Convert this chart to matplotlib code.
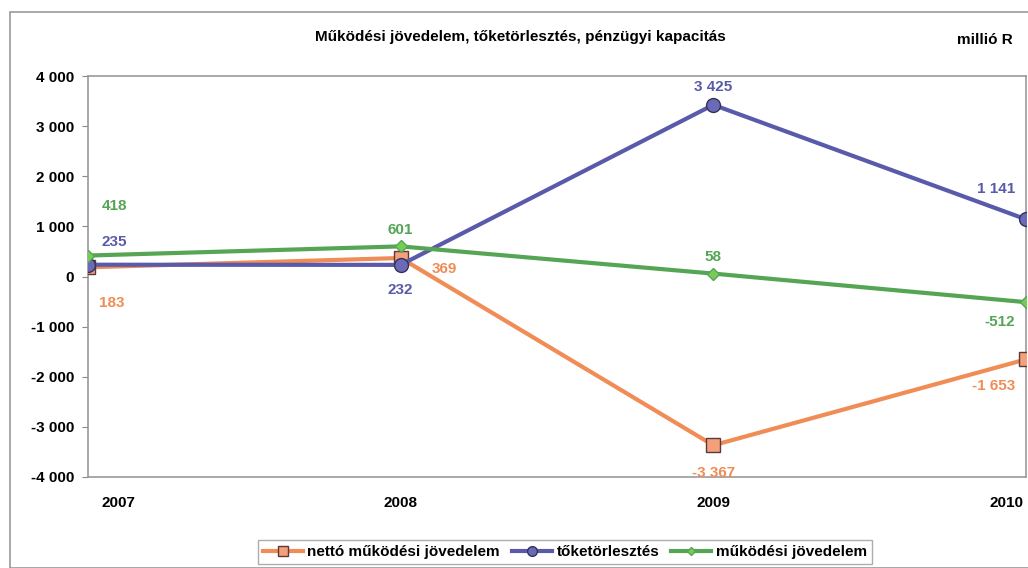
import matplotlib
matplotlib.use("Agg")
import matplotlib.pyplot as plt
from matplotlib.patches import Rectangle
from matplotlib.transforms import ScaledTranslation

plt.rcParams["font.family"] = ["Liberation Sans Narrow", "Liberation Sans", "DejaVu Sans"]

years = [2007, 2008, 2009, 2010]
netto = [183, 369, -3367, -1653]
toketorlesztes = [235, 232, 3425, 1141]
mukodesi = [418, 601, 58, -512]

C_ORANGE = "#f08c55"
C_BLUE = "#5a5aaa"
C_GREEN = "#55a555"

W, H = 1028, 568
fig = plt.figure(figsize=(W / 100, H / 100), dpi=100)

# outer frame around the whole chart
fig.patches.append(Rectangle((10 / W, 0), 1.0, (H - 12) / H, transform=fig.transFigure,
                             fill=False, edgecolor="#999999", linewidth=1.2))

ax = fig.add_axes([88 / W, 1 - 477 / H, (1026 - 88) / W, (477 - 76) / H])

ax.plot(years, netto, color=C_ORANGE, linewidth=3, marker="s", markersize=10,
        markerfacecolor="#f4a07a", markeredgecolor="#5a3a3a", markeredgewidth=1,
        label="nettó működési jövedelem", zorder=3)
ax.plot(years, toketorlesztes, color=C_BLUE, linewidth=3, marker="o", markersize=10,
        markerfacecolor="#6a6ab8", markeredgecolor="#33335a", markeredgewidth=1,
        label="tőketörlesztés", zorder=3)
ax.plot(years, mukodesi, color=C_GREEN, linewidth=3, marker="D", markersize=6,
        markerfacecolor="#77cc55", markeredgecolor=C_GREEN,
        label="működési jövedelem", zorder=4)

ax.set_xlim(2007, 2010)
ax.set_ylim(-4000, 4000)
ax.set_yticks(range(-4000, 4001, 1000))
ax.set_yticklabels([f"{v:,}".replace(",", " ") for v in range(-4000, 4001, 1000)],
                   fontsize=11, fontweight="bold")
ax.set_xticks(years)
ax.set_xticklabels([str(y) for y in years], fontsize=11, fontweight="bold")
ax.tick_params(axis="x", length=0, pad=14)
ax.tick_params(axis="y", length=4, color="#888888", pad=6)
xl = ax.get_xticklabels()
xl[0].set_horizontalalignment("left")
xl[0].set_transform(xl[0].get_transform() + ScaledTranslation(10 / 72, 0, fig.dpi_scale_trans))
xl[-1].set_horizontalalignment("right")
xl[-1].set_transform(xl[-1].get_transform() + ScaledTranslation(-2 / 72, 0, fig.dpi_scale_trans))
for s in ax.spines.values():
    s.set_color("#999999")
    s.set_linewidth(1.2)


def fmt(v):
    return f"{v:,}".replace(",", " ")


# value labels: offsets in points and alignment per point
label_pos = [
    (mukodesi, C_GREEN, [(10, 36, "left"), (0, 12, "center"), (0, 12, "center"), (-8, -14, "right")]),
    (toketorlesztes, C_BLUE, [(10, 16, "left"), (0, -18, "center"), (0, 13, "center"), (-8, 22, "right")]),
    (netto, C_ORANGE, [(8, -26, "left"), (22, -8, "left"), (0, -20, "center"), (-8, -19, "right")]),
]
for values, color, offs in label_pos:
    for x, v, (dx, dy, ha) in zip(years, values, offs):
        ax.annotate(fmt(v), (x, v), xytext=(dx, dy), textcoords="offset points",
                    ha=ha, va="center", color=color, fontsize=11, fontweight="bold")

fig.text(520 / W, 1 - 37 / H, "Működési jövedelem, tőketörlesztés, pénzügyi kapacitás",
         ha="center", va="center", fontsize=11, fontweight="bold")
fig.text(985 / W, 1 - 40 / H, "millió R", ha="center", va="center",
         fontsize=11, fontweight="bold")

leg = fig.legend(loc="center", bbox_to_anchor=(565 / W, 1 - 552 / H), ncol=3,
                 frameon=True, handlelength=2.6, columnspacing=0.8,
                 handletextpad=0.3, borderpad=0.3, fancybox=False, markerscale=0.7,
                 prop={"weight": "bold", "size": 11})
leg.get_frame().set_edgecolor("#999999")

fig.savefig("out.png", dpi=100)
